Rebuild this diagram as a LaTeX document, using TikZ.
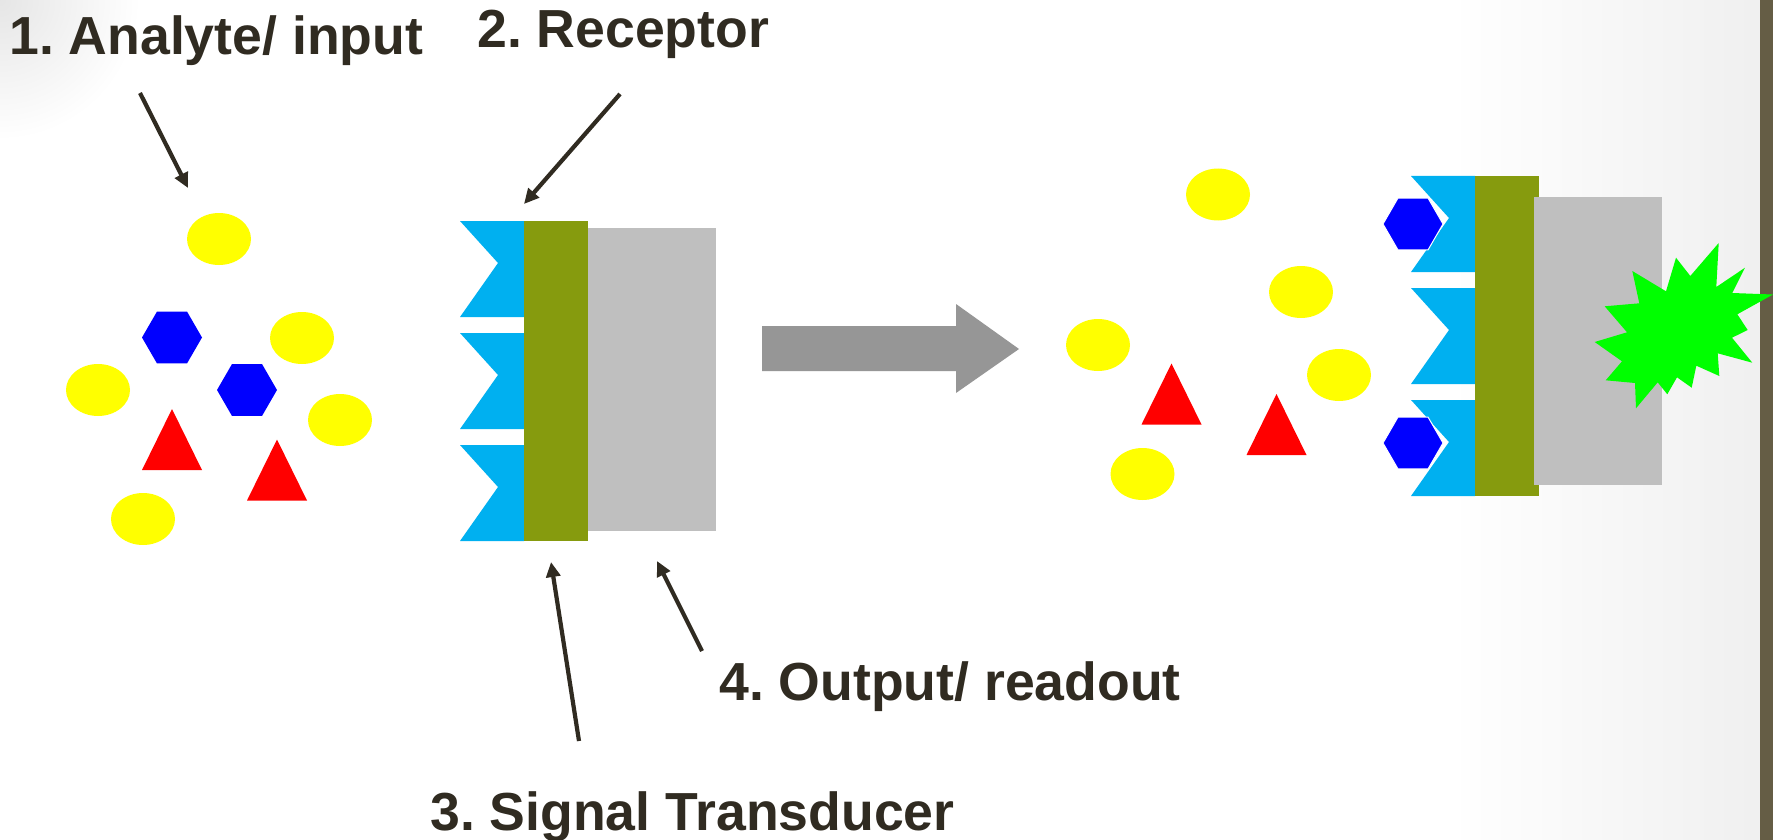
\documentclass[tikz,border=0pt]{standalone}
\usepackage{fontspec}
\setmainfont{Liberation Sans}
\usetikzlibrary{arrows.meta,shapes.geometric}
\frenchspacing

\definecolor{ink}{RGB}{48,43,33}
\definecolor{tooth}{RGB}{0,176,240}
\definecolor{olive}{RGB}{134,155,14}
\definecolor{slab}{RGB}{191,191,191}
\definecolor{flowgray}{RGB}{150,150,150}
\definecolor{edgebar}{RGB}{101,93,69}
\definecolor{glow}{RGB}{0,255,0}
\definecolor{analyte}{RGB}{255,255,0}
\definecolor{hexblue}{RGB}{0,0,255}
\definecolor{trired}{RGB}{255,0,0}

\tikzset{
  heading/.style={font=\fontsize{53.6}{60}\selectfont\bfseries, text=ink,
    anchor=base west, inner sep=0pt},
  pointer/.style={draw=ink, line width=4.2pt,
    -{Triangle[length=15pt,width=14pt]}},
  blob/.style={ellipse, fill=analyte, minimum width=64pt,
    minimum height=52pt, inner sep=0pt},
  hexa/.style={regular polygon, regular polygon sides=6, fill=hexblue,
    minimum size=60pt, inner sep=0pt},
  boundhex/.style={hexa, draw=white, line width=1pt},
  % red triangle particle, origin at its centre
  tri/.pic={\fill[trired] (0,-30.5) -- (30,30.5) -- (-30,30.5) -- cycle;},
  % three notched receptor teeth, origin at the top-left corner
  teeth/.pic={
    \foreach \k in {0,1,2}{
      \fill[tooth] (0,112*\k) -- (64,112*\k) -- (64,112*\k+96)
        -- (0,112*\k+96) -- (38,112*\k+42) -- cycle;
    }
  }
}

\begin{document}
\begin{tikzpicture}[x=1pt,y=-1pt]
% canvas and soft background tint
\fill[white] (0,0) rectangle (1773,840);
\useasboundingbox (0,0) rectangle (1773,840);
\shade[left color=white, right color=black!6] (1450,0) rectangle (1760,840);
\begin{scope}
  \clip (0,0) rectangle (1773,840);
  \shade[inner color=black!10, outer color=white] (0,0) circle (140);
\end{scope}
\fill[edgebar] (1760,0) rectangle (1773,840);

% ---- free analytes (left) ----
\node[blob] (e1) at (219,239) {};
\node[blob] (e2) at (302,338) {};
\node[blob] (e3) at (98,390) {};
\node[blob] (e4) at (340,420) {};
\node[blob] (e5) at (143,519) {};
\node[hexa] (h1) at (172,337.5) {};
\node[hexa] (h2) at (247,390) {};
\pic at (172,439.5) {tri};
\pic at (277,470) {tri};

% ---- sensor before binding ----
\pic at (460,221) {teeth};
\fill[olive] (524,221) rectangle (588,541);
\fill[slab] (588,228) rectangle (716,531);

% ---- process arrow ----
\fill[flowgray] (762,326) -- (956,326) -- (956,304) -- (1019,349)
  -- (956,393) -- (956,371) -- (762,371) -- cycle;

% ---- remaining analytes (right) ----
\node[blob] (e6) at (1218,194.5) {};
\node[blob] (e7) at (1301,292) {};
\node[blob] (e8) at (1098,345) {};
\node[blob] (e9) at (1339,375) {};
\node[blob] (e10) at (1142.5,474) {};
\pic at (1171.5,394) {tri};
\pic at (1276.5,424.5) {tri};

% ---- sensor after binding ----
\pic at (1411,176) {teeth};
\fill[olive] (1475,176) rectangle (1539,496);
\fill[slab] (1534,197) rectangle (1662,485);
\node[boundhex] (h3) at (1413,224) {};
\node[boundhex] (h4) at (1413,443) {};

% output signal burst
\fill[glow] (1594.7,342) -- (1627,332.3) -- (1604.7,306.3) -- (1639.3,303.3)
  -- (1632.3,271) -- (1666,291.3) -- (1676,257.7) -- (1690.3,276)
  -- (1718.7,243) -- (1716.3,287) -- (1745,267.7) -- (1732.3,293)
  -- (1773,294.5) -- (1737.3,314.3) -- (1747.7,330) -- (1732,337.7)
  -- (1752.3,362.7) -- (1717.7,353.3) -- (1719.3,376) -- (1696.3,365.7)
  -- (1691.7,387.7) -- (1677,377.3) -- (1667.3,394.3) -- (1657.7,382.3)
  -- (1636,408.3) -- (1635,383) -- (1605.7,380.3) -- (1622,361.3) -- cycle;

% ---- labels ----
\node[heading] (l1) at (9,55) {1. Analyte/ input};
\node[heading] (l2) at (477,48) {2. Receptor};
\node[heading] (l4) at (719,700) {4. Output/ readout};
\node[heading] (l3) at (430,830) {3. Signal Transducer};

% ---- pointers ----
\coordinate (p1s) at (140,93);   \coordinate (p1e) at (188,188);
\coordinate (p2s) at (620,94);   \coordinate (p2e) at (524,204);
\coordinate (p3s) at (579,741);  \coordinate (p3e) at (551,562);
\coordinate (p4s) at (702,651);  \coordinate (p4e) at (657,561);
\draw[pointer] (p1s) -- (p1e);
\draw[pointer] (p2s) -- (p2e);
\draw[pointer] (p3s) -- (p3e);
\draw[pointer] (p4s) -- (p4e);
\end{tikzpicture}
\end{document}
